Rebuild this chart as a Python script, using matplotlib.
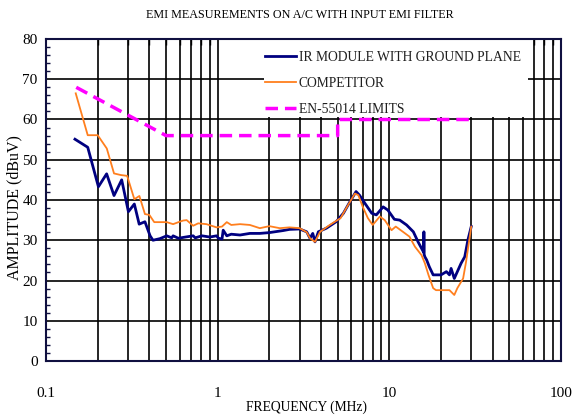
import matplotlib
matplotlib.use("Agg")
import matplotlib.pyplot as plt
import numpy as np
from matplotlib.ticker import FixedLocator, NullFormatter
from matplotlib.patches import Rectangle

plt.rcParams['font.family'] = ['Liberation Serif', 'DejaVu Serif']
plt.rcParams['lines.scale_dashes'] = False

title = "EMI MEASUREMENTS ON A/C WITH INPUT EMI FILTER"
xlabel = "FREQUENCY (MHz)"
ylabel = "AMPLITUDE (dBuV)"
series_names = ["IR MODULE WITH GROUND PLANE", "COMPETITOR", "EN-55014 LIMITS"]

ir_freq = [0.1475, 0.175, 0.202, 0.2255, 0.249, 0.276, 0.302, 0.327, 0.349, 0.377,
           0.404, 0.42, 0.461, 0.505, 0.54, 0.55, 0.59, 0.65, 0.72, 0.74, 0.81, 0.9,
           0.985, 1.01, 1.06, 1.077, 1.13, 1.2, 1.35, 1.54, 1.76, 2.0, 2.4, 2.62, 3.0,
           3.3, 3.45, 3.58, 3.69, 3.86, 4.3, 4.9, 5.4, 5.9, 6.4, 6.7, 7.2, 7.9, 8.4,
           9.2, 9.8, 10.7, 11.5, 12.6, 13.8, 14.7, 15.4, 15.85, 15.9, 15.95, 16.1,
           16.5, 17.1, 18.0, 20.0, 21.5, 22.4, 22.9, 23.9, 24.9, 26.2, 27.5, 28.7, 30.0]
ir_amp = [55.1, 53.1, 43.3, 46.5, 41.1, 45.0, 37.1, 39.0, 34.0, 34.6,
          31.1, 30.0, 30.4, 31.1, 30.6, 31.1, 30.5, 30.8, 31.1, 30.6, 31.1, 30.8,
          31.1, 30.5, 30.3, 32.5, 31.1, 31.5, 31.3, 31.7, 31.7, 31.9, 32.4, 32.7, 32.8,
          32.1, 30.5, 31.7, 29.6, 32.1, 33.0, 34.6, 36.7, 39.6, 42.1, 41.2, 39.2, 36.7, 36.3,
          38.3, 37.5, 35.2, 35.0, 33.8, 32.1, 29.6, 28.0, 27.0, 32.1, 26.5, 25.9,
          25.1, 23.4, 21.4, 21.4, 22.2, 21.4, 23.0, 20.5, 22.2, 24.3, 25.9, 30.1, 33.4]

comp_freq = [0.149, 0.175, 0.2, 0.226, 0.249, 0.273, 0.297, 0.327, 0.35, 0.377,
             0.4, 0.427, 0.505, 0.55, 0.6, 0.63, 0.66, 0.72, 0.77, 0.86, 0.985,
             1.06, 1.13, 1.2, 1.35, 1.54, 1.76, 2.0, 2.3, 2.62, 3.0, 3.3, 3.45, 3.69,
             3.95, 4.5, 5.2, 5.6, 6.3, 6.6, 7.0, 7.5, 8.0, 8.8, 9.4, 10.3, 10.9, 12.0,
             13.1, 14.1, 15.4, 16.1, 16.9, 18.0, 18.7, 22.4, 23.9, 24.9, 26.9, 28.0, 30.0]
comp_amp = [66.5, 56.1, 56.1, 52.8, 46.6, 46.2, 46.0, 40.2, 41.0, 36.5,
            36.3, 34.5, 34.5, 34.0, 34.6, 34.9, 35.0, 33.6, 34.2, 34.0, 33.2,
            33.4, 34.5, 33.8, 34.0, 33.8, 33.0, 33.5, 33.0, 33.2, 33.0, 32.0, 30.5, 29.6,
            32.1, 33.8, 35.5, 37.9, 41.6, 41.2, 38.3, 35.5, 33.8, 35.9, 35.0, 32.5, 33.4, 32.1,
            30.9, 28.4, 26.3, 24.3, 21.4, 18.1, 17.6, 17.6, 16.4, 18.1, 20.5, 24.7, 33.4]

limit_freq = [0.15, 0.5, 5.0, 5.0, 30.0]
limit_amp = [68.0, 56.0, 56.0, 60.0, 60.0]

fig = plt.figure(figsize=(5.72, 4.17), dpi=100)
ax = fig.add_axes([46/572, 1-361/417, 515/572, 322/417])
ax.set_xscale('log')
ax.set_xlim(0.1, 100)
ax.set_ylim(0, 80)

# grid lines drawn manually (below legend area)
for dec in [0.1, 1, 10]:
    for m in range(1, 10):
        v = dec * m
        if 0.1 < v < 100:
            ax.axvline(v, color='black', lw=1.2, zorder=1)
for yv in range(10, 80, 10):
    ax.axhline(yv, color='black', lw=1.2, zorder=1)

# white legend background hiding grid lines
ax.add_patch(Rectangle((0.423, 0.758), 0.513, 0.242, transform=ax.transAxes,
                       facecolor='white', edgecolor='none', zorder=2))

ax.plot(ir_freq, ir_amp, color='#000080', lw=2.0, zorder=4, label=series_names[0])
ax.plot(comp_freq, comp_amp, color='#FF7F1E', lw=1.3, zorder=5, label=series_names[1])
ax.plot(limit_freq, limit_amp, color='#FF00FF', lw=2.5, dashes=(9, 5), zorder=3,
        label=series_names[2])

ax.set_xticks([0.1, 1, 10, 100])
ax.set_xticklabels(['0.1', '1', '10', '100'])
ax.xaxis.set_minor_locator(FixedLocator([d*m for d in [0.1, 1, 10] for m in range(2, 10)]))
ax.xaxis.set_minor_formatter(NullFormatter())
ax.set_yticks(range(0, 81, 10))
ax.yaxis.set_minor_locator(FixedLocator(range(0, 81, 2)))

ax.tick_params(axis='x', which='major', length=0)
ax.tick_params(axis='x', which='both', bottom=False, top=True, direction='in',
               width=1, labelsize=11, pad=19, color='black')
ax.tick_params(axis='x', which='minor', length=4)
ax.tick_params(axis='y', which='major', left=False, length=0, labelsize=11, pad=6)
ax.tick_params(axis='y', which='minor', left=True, direction='in', length=3,
               width=1, color='#101040')

for s in ax.spines.values():
    s.set_color('#101040')
    s.set_linewidth(1.5)
    s.set_zorder(6)

leg = ax.legend(loc='upper left', bbox_to_anchor=(0.413, 0.981), frameon=False,
                fontsize=9.8, handlelength=2.3, handletextpad=0.2,
                labelspacing=0.95, borderpad=0.45, borderaxespad=0)
leg.set_zorder(5)
for t in leg.get_texts():
    t.set_color('#202020')

fig.text(300/572, 1-15/417, title, ha='center', va='center', fontsize=8.7)
fig.text(306/572, 1-407/417, xlabel, ha='center', va='center', fontsize=9.8)
fig.text(14/572, 1-208/417, ylabel, ha='center', va='center', rotation=90, fontsize=11.5)

fig.savefig('out.png', dpi=100)
